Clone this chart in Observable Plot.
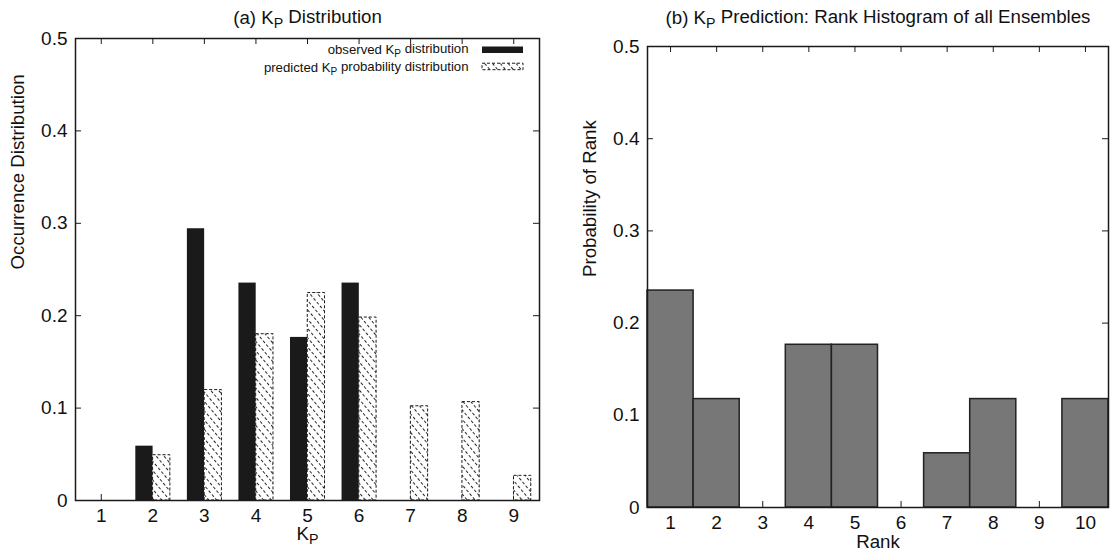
<!DOCTYPE html>
<html>
<head>
<meta charset="utf-8">
<script src="https://cdn.jsdelivr.net/npm/d3@7"></script>
<script src="https://cdn.jsdelivr.net/npm/@observablehq/plot@0.6"></script>
<style>
  html, body { margin: 0; padding: 0; background: #fff; }
  #wrap { position: relative; width: 1114px; height: 555px; overflow: hidden; }
  #wrap svg { position: absolute; top: 0; }
</style>
</head>
<body>
<div id="wrap"></div>
<script>
// ---------- data ----------
const kpValues = [1, 2, 3, 4, 5, 6, 7, 8, 9];
const observedKp = [0, 0.0588, 0.2941, 0.2353, 0.1765, 0.2353, 0, 0, 0];
const predictedKp = [0, 0.049, 0.1195, 0.180, 0.2245, 0.198, 0.102, 0.1065, 0.0267];

const ranks = [1, 2, 3, 4, 5, 6, 7, 8, 9, 10];
const rankProbability = [0.2353, 0.1176, 0, 0.1765, 0.1765, 0, 0.0588, 0.1176, 0, 0.1176];

const yTicks = [0, 0.1, 0.2, 0.3, 0.4, 0.5];
const yTickLabels = ["0", "0.1", "0.2", "0.3", "0.4", "0.5"];

const titleA = "(a) K_P Distribution";
const titleB = "(b) K_P Prediction: Rank Histogram of all Ensembles";
const xLabelA = "K_P";
const yLabelA = "Occurrence Distribution";
const xLabelB = "Rank";
const yLabelB = "Probability of Rank";
const legendLabels = ["observed K_P distribution", "predicted K_P probability distribution"];

// ---------- helpers ----------
const FONT = "'Liberation Sans', Arial, Helvetica, sans-serif";
const INK = "#1a1a1a";
const TICK = 6;
const FS_TICK = 19;
const FS_LABEL = 18.7;
const FS_LEGEND = 13.2;

function frameTicks(xt, yt, innerH, innerW) {
  return [
    Plot.ruleX(xt, {x: d => d, insetTop: innerH - TICK, stroke: INK, strokeWidth: 1}),
    Plot.ruleX(xt, {x: d => d, insetBottom: innerH - TICK, stroke: INK, strokeWidth: 1}),
    Plot.ruleY(yt, {y: d => d, insetRight: innerW - TICK, stroke: INK, strokeWidth: 1}),
    Plot.ruleY(yt, {y: d => d, insetLeft: innerW - TICK, stroke: INK, strokeWidth: 1})
  ];
}

function subscriptify(svg) {
  d3.select(svg).selectAll("text").each(function () {
    const t = this.textContent;
    if (!t.includes("K_P")) return;
    const parts = t.split("K_P");
    const sel = d3.select(this);
    sel.text(null);
    parts.forEach((p, i) => {
      if (i > 0) {
        sel.append("tspan").attr("dy", "0.28em").attr("font-size", "76%").text("P");
        sel.append("tspan").attr("dy", "-0.28em").text(p);
      } else {
        sel.append("tspan").text(p + "K");
      }
    });
  });
}

// ---------- panel (a) ----------
const A = {width: 557, height: 555, ml: 75, mr: 18, mt: 38, mb: 55};
const aInnerW = A.width - A.ml - A.mr, aInnerH = A.height - A.mt - A.mb;
const rowsA = kpValues.map((k, i) => ({k, obs: observedKp[i], pred: predictedKp[i]}));

const legendSwatches = (index, scales, values, dim) => {
  const g = d3.create("svg:g");
  const xR = dim.width - dim.marginRight - 16;
  const xL = xR - 41;
  g.append("rect").attr("x", xL).attr("y", dim.marginTop + 8.5).attr("width", xR - xL).attr("height", 6.5)
    .attr("fill", INK);
  g.append("rect").attr("x", xL).attr("y", dim.marginTop + 25.2).attr("width", xR - xL).attr("height", 6.5)
    .attr("fill", "url(#hatch)").attr("stroke", INK).attr("stroke-dasharray", "3,2").attr("stroke-width", 1);
  return g.node();
};

const svgA = Plot.plot({
  width: A.width, height: A.height,
  marginLeft: A.ml, marginRight: A.mr, marginTop: A.mt, marginBottom: A.mb,
  x: {domain: [0.5, 9.5]},
  y: {domain: [0, 0.5]},
  style: {fontFamily: FONT, fontSize: FS_TICK + "px", color: "#111", background: "#fff", overflow: "visible"},
  marks: [
    ...frameTicks(kpValues, yTicks, aInnerH, aInnerW),
    Plot.rect(rowsA.filter(d => d.obs > 0), {x1: d => d.k - 0.33, x2: d => d.k + 0.005, y1: 0, y2: "obs", fill: INK}),
    Plot.rect(rowsA.filter(d => d.pred > 0), {x1: d => d.k + 0.005, x2: d => d.k + 0.34, y1: 0, y2: "pred",
      fill: "url(#hatch)", stroke: INK, strokeDasharray: "3,2", strokeWidth: 1}),
    Plot.frame({stroke: INK, strokeWidth: 1.5}),
    Plot.axisX(kpValues, {tickSize: 0, tickPadding: 8, label: null, fontSize: FS_TICK}),
    Plot.axisY(yTicks, {tickSize: 0, tickPadding: 8, label: null, fontSize: FS_TICK, tickFormat: (d, i) => yTickLabels[i]}),
    Plot.text([titleA], {text: d => d, frameAnchor: "top", dy: -20, lineAnchor: "middle", fontSize: FS_LABEL, fill: "#111"}),
    Plot.text([xLabelA], {text: d => d, frameAnchor: "bottom", dy: 34, lineAnchor: "middle", fontSize: FS_LABEL, fill: "#111"}),
    Plot.text([yLabelA], {text: d => d, frameAnchor: "left", dx: -57, rotate: -90, lineAnchor: "middle", fontSize: FS_LABEL, fill: "#111"}),
    Plot.text([legendLabels[0]], {text: d => d, frameAnchor: "top-right", textAnchor: "end", dx: -71, dy: 11.5, lineAnchor: "middle", fontSize: FS_LEGEND, fill: "#111"}),
    Plot.text([legendLabels[1]], {text: d => d, frameAnchor: "top-right", textAnchor: "end", dx: -71, dy: 29, lineAnchor: "middle", fontSize: FS_LEGEND, fill: "#111"}),
    legendSwatches
  ]
});

// hatch pattern definition
const defs = d3.select(svgA).insert("defs", ":first-child");
const pat = defs.append("pattern").attr("id", "hatch").attr("patternUnits", "userSpaceOnUse")
  .attr("width", 6).attr("height", 5).attr("patternTransform", "rotate(-40)");
pat.append("rect").attr("width", 6).attr("height", 5).attr("fill", "#fff");
pat.append("line").attr("x1", 0.5).attr("x2", 0.5).attr("y1", 0).attr("y2", 5)
  .attr("stroke", "#111").attr("stroke-width", 0.9).attr("stroke-dasharray", "3,2");

// ---------- panel (b) ----------
const B = {width: 557, height: 555, ml: 90, mr: 6, mt: 46, mb: 48};
const bInnerW = B.width - B.ml - B.mr, bInnerH = B.height - B.mt - B.mb;
const rowsB = ranks.map((r, i) => ({r, p: rankProbability[i]}));

const svgB = Plot.plot({
  width: B.width, height: B.height,
  marginLeft: B.ml, marginRight: B.mr, marginTop: B.mt, marginBottom: B.mb,
  x: {domain: [0.5, 10.5]},
  y: {domain: [0, 0.5]},
  style: {fontFamily: FONT, fontSize: FS_TICK + "px", color: "#111", background: "#fff", overflow: "visible"},
  marks: [
    ...frameTicks(ranks, yTicks, bInnerH, bInnerW),
    Plot.rect(rowsB.filter(d => d.p > 0), {x1: d => d.r - 0.5, x2: d => d.r + 0.5, y1: 0, y2: "p",
      fill: "#777", stroke: "#222", strokeWidth: 1.5}),
    Plot.frame({stroke: INK, strokeWidth: 1.5}),
    Plot.axisX(ranks, {tickSize: 0, tickPadding: 8, label: null, fontSize: FS_TICK}),
    Plot.axisY(yTicks, {tickSize: 0, tickPadding: 8, label: null, fontSize: FS_TICK, tickFormat: (d, i) => yTickLabels[i]}),
    Plot.text([titleB], {text: d => d, frameAnchor: "top", dy: -28, lineAnchor: "middle", fontSize: FS_LABEL, fill: "#111"}),
    Plot.text([xLabelB], {text: d => d, frameAnchor: "bottom", dy: 35, lineAnchor: "middle", fontSize: FS_LABEL, fill: "#111"}),
    Plot.text([yLabelB], {text: d => d, frameAnchor: "left", dx: -57, rotate: -90, lineAnchor: "middle", fontSize: FS_LABEL, fill: "#111"})
  ]
});

subscriptify(svgA);
subscriptify(svgB);

svgA.style.left = "0px";
svgB.style.left = "557px";
document.getElementById("wrap").append(svgA, svgB);
</script>
</body>
</html>
